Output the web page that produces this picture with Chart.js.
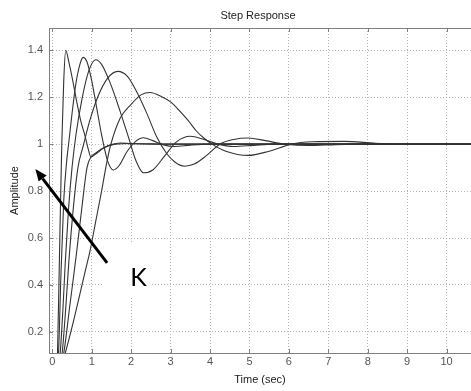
<!DOCTYPE html>
<html><head><meta charset="utf-8">
<script src="https://cdn.jsdelivr.net/npm/chart.js@4.4.1/dist/chart.umd.min.js"></script>
<style>html,body{margin:0;padding:0;background:#fff;}canvas{display:block;}</style>
</head><body>
<canvas id="c" width="471" height="391"></canvas>
<script>
// ---- data ----
const xTicks = [0,1,2,3,4,5,6,7,8,9,10];
const yTicks = [0.2,0.4,0.6,0.8,1.0,1.2,1.4];
const yTickLabels = ['0.2','0.4','0.6','0.8','1','1.2','1.4'];

const t1 = [0,0.1,0.13,0.17,0.2,0.24,0.29,0.34,0.42,0.52,0.62,0.72,0.83,0.91,0.98,1.1,1.3,1.5,1.72,2.0,2.5,3.5,5,7,9,10.62];
const y1 = [0,0.01,0.1,0.42,0.68,1.0,1.27,1.40,1.35,1.27,1.18,1.1,1.035,0.98,0.945,0.958,0.983,0.998,1.005,1.002,1.0,1.0,1.0,1.0,1.0,1.0];

const t2 = [0,0.1,0.16,0.22,0.29,0.36,0.42,0.5,0.6,0.7,0.78,0.88,1.0,1.12,1.25,1.4,1.55,1.7,1.9,2.1,2.31,2.55,2.8,3.1,3.5,4.0,5.0,7.0,10.62];
const y2 = [0,0.01,0.12,0.45,0.76,0.92,1.01,1.13,1.26,1.34,1.37,1.35,1.27,1.16,1.04,0.93,0.89,0.91,0.97,1.01,1.027,1.015,0.998,0.99,0.996,1.0,1.0,1.0,1.0];

const t3 = [0,0.12,0.2,0.27,0.33,0.41,0.5,0.6,0.75,0.92,1.1,1.25,1.47,1.72,1.95,2.12,2.31,2.55,2.85,3.15,3.5,3.85,4.2,4.6,5.1,5.6,7,10.62];
const y3 = [0,0.01,0.11,0.3,0.5,0.72,0.9,1.04,1.19,1.31,1.36,1.34,1.26,1.14,1.02,0.93,0.878,0.89,0.95,1.01,1.034,1.02,1.0,0.99,0.995,1.0,1.0,1.0];

const t4 = [0,0.14,0.25,0.34,0.42,0.54,0.65,0.78,0.95,1.15,1.4,1.66,1.9,2.15,2.4,2.65,2.9,3.1,3.35,3.6,3.9,4.25,4.6,4.97,5.4,5.9,6.5,7.2,8,10.62];
const y4 = [0,0.01,0.11,0.3,0.5,0.74,0.9,0.99,1.1,1.2,1.28,1.31,1.29,1.22,1.13,1.03,0.96,0.925,0.906,0.915,0.95,1.0,1.02,1.026,1.015,1.0,0.994,0.998,1.0,1.0];

const t5 = [0,0.2,0.33,0.5,0.67,0.85,0.95,1.1,1.25,1.38,1.47,1.72,2.0,2.25,2.48,2.8,3.0,3.24,3.45,3.66,3.85,4.05,4.4,4.97,5.5,6.07,6.6,7.4,8.2,9,10.62];
const y5 = [0,0.03,0.11,0.22,0.34,0.47,0.54,0.67,0.8,0.92,0.99,1.11,1.17,1.21,1.22,1.2,1.18,1.14,1.1,1.055,1.025,1.0,0.97,0.952,0.97,1.0,1.01,1.012,1.004,1.0,1.0];

const t6 = [0,0.15,0.29,0.45,0.61,0.75,0.88,0.98,1.1,1.3,1.6,2.0,3.0,5,10.62];
const y6 = [0,0.02,0.11,0.32,0.53,0.73,0.9,0.945,0.962,0.985,1.0,1.003,1.0,1.0,1.0];

const series = [[t1,y1],[t2,y2],[t3,y3],[t4,y4],[t5,y5],[t6,y6]];

// ---- chart ----
const FONT = '"Liberation Sans", Arial, sans-serif';
const AXIS_COLOR = '#808080';

const annot = {
  id: 'annot',
  beforeDatasetsDraw(chart) {
    const {ctx, scales: {x, y}} = chart;
    // white label box behind "K" (hides grid there)
    const bx0 = x.getPixelForValue(1.29), bx1 = x.getPixelForValue(2.53);
    const by0 = y.getPixelForValue(0.574), by1 = y.getPixelForValue(0.345);
    ctx.save();
    ctx.fillStyle = '#fff';
    ctx.fillRect(bx0, by0, bx1 - bx0, by1 - by0);
    ctx.restore();
  },
  afterDraw(chart) {
    const {ctx, chartArea: a, scales: {x, y}} = chart;
    ctx.save();
    // top border
    ctx.strokeStyle = AXIS_COLOR; ctx.lineWidth = 1;
    ctx.beginPath(); ctx.moveTo(a.left, a.top + 0.5); ctx.lineTo(a.right, a.top + 0.5); ctx.stroke();
    // inward ticks
    ctx.beginPath();
    yTicks.forEach(v => { const py = Math.round(y.getPixelForValue(v)) + 0.5; ctx.moveTo(a.left, py); ctx.lineTo(a.left + 4, py); });
    xTicks.forEach(v => { const px = Math.round(x.getPixelForValue(v)) + 0.5; ctx.moveTo(px, a.bottom); ctx.lineTo(px, a.bottom - 4); ctx.moveTo(px, a.top); ctx.lineTo(px, a.top + 4); });
    ctx.stroke();
    // title
    ctx.fillStyle = '#222';
    ctx.font = '11px ' + FONT;
    ctx.textAlign = 'center'; ctx.textBaseline = 'middle';
    ctx.fillText('Step Response', (a.left + a.right) / 2 - 2, 16);
    // arrow
    const tx = x.getPixelForValue(1.39), ty = y.getPixelForValue(0.494);
    const hx = x.getPixelForValue(-0.43), hy = y.getPixelForValue(0.894);
    const ang = Math.atan2(hy - ty, hx - tx);
    const L = 12, W = 5;
    const bxp = hx - L * Math.cos(ang), byp = hy - L * Math.sin(ang);
    ctx.strokeStyle = '#000'; ctx.fillStyle = '#000'; ctx.lineWidth = 3;
    ctx.beginPath(); ctx.moveTo(tx, ty); ctx.lineTo(bxp, byp); ctx.stroke();
    ctx.beginPath();
    ctx.moveTo(hx, hy);
    ctx.lineTo(bxp + W * Math.sin(ang), byp - W * Math.cos(ang));
    ctx.lineTo(bxp - W * Math.sin(ang), byp + W * Math.cos(ang));
    ctx.closePath(); ctx.fill();
    // K label
    ctx.font = '25px Lato, "Open Sans", sans-serif';
    ctx.textAlign = 'left'; ctx.textBaseline = 'alphabetic';
    ctx.fillText('K', x.getPixelForValue(1.975), y.getPixelForValue(0.396));
    ctx.restore();
  }
};

new Chart(document.getElementById('c'), {
  type: 'line',
  data: {
    datasets: series.map(([ts, ys], i) => ({
      label: 'K' + (i + 1),
      data: ts.map((t, j) => ({x: t, y: ys[j]})),
      borderColor: '#333',
      borderWidth: 1.1,
      pointRadius: 0,
      fill: false,
      cubicInterpolationMode: 'monotone'
    }))
  },
  options: {
    responsive: false,
    animation: false,
    events: [],
    layout: {padding: {top: 28, right: 0, left: 0, bottom: 0}},
    plugins: {legend: {display: false}, tooltip: {enabled: false}, title: {display: false}},
    scales: {
      x: {
        type: 'linear', min: -0.084, max: 10.62,
        afterBuildTicks: s => { s.ticks = xTicks.map(v => ({value: v})); },
        afterFit: s => { s.height = 38; },
        ticks: {autoSkip: false, maxRotation: 0, padding: 2, color: '#555', font: {family: FONT, size: 11}, callback: v => String(v)},
        grid: {color: '#b4b4b4', lineWidth: 1, drawTicks: false},
        border: {display: true, color: AXIS_COLOR, width: 1, dash: [1, 2]},
        title: {display: true, text: 'Time (sec)', color: '#222', font: {family: FONT, size: 11}, padding: {top: 0, bottom: 4}}
      },
      y: {
        type: 'linear', min: 0.11, max: 1.495,
        afterBuildTicks: s => { s.ticks = yTicks.map(v => ({value: v})); },
        afterFit: s => { s.width = 49; },
        ticks: {autoSkip: false, padding: 6, color: '#555', font: {family: FONT, size: 11}, callback: v => yTickLabels[yTicks.indexOf(v)]},
        grid: {color: '#b4b4b4', lineWidth: 1, drawTicks: false},
        border: {display: true, color: AXIS_COLOR, width: 1, dash: [1, 2]},
        title: {display: true, text: 'Amplitude', color: '#222', font: {family: FONT, size: 11}, padding: {top: 8, bottom: 0}}
      }
    }
  },
  plugins: [annot]
});
</script>
</body></html>
